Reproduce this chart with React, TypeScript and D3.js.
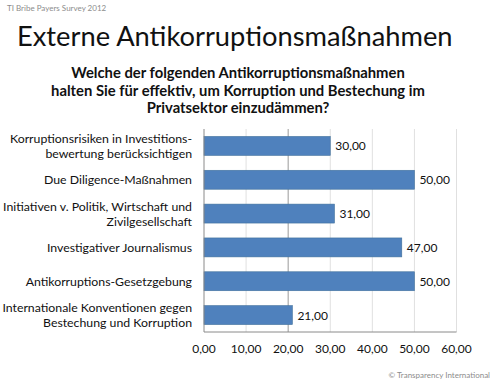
import React from "react";
import * as d3 from "d3";

const categories: string[][] = [
  ["Korruptionsrisiken in Investitions-", "bewertung berücksichtigen"],
  ["Due Diligence-Maßnahmen"],
  ["Initiativen v. Politik, Wirtschaft und", "Zivilgesellschaft"],
  ["Investigativer Journalismus"],
  ["Antikorruptions-Gesetzgebung"],
  ["Internationale Konventionen gegen", "Bestechung und Korruption"],
];
const values: number[] = [30, 50, 31, 47, 50, 21];
const ticks: number[] = [0, 10, 20, 30, 40, 50, 60];
const title = "Externe Antikorruptionsmaßnahmen";
const subtitle: string[] = [
  "Welche der folgenden Antikorruptionsmaßnahmen",
  "halten Sie für effektiv, um Korruption und Bestechung im",
  "Privatsektor einzudämmen?",
];
const sourceTop = "TI Bribe Payers Survey 2012";
const sourceBottom = "© Transparency International";

const fmt = (v: number) => v.toFixed(2).replace(".", ",");

export default function App() {
  const W = 500, H = 383;
  const left = 204, right = 456.5, top = 129, bottom = 332;
  const x = d3.scaleLinear().domain([0, 60]).range([left, right]);
  const y = d3
    .scaleBand<number>()
    .domain(d3.range(categories.length))
    .range([top, bottom])
    .paddingInner(0.44)
    .paddingOuter(0.22);
  const font = "Lato, 'Open Sans', sans-serif";
  return (
    <svg
      width={W}
      height={H}
      style={{ position: "absolute", left: 0, top: 0, background: "#fff" }}
      fontFamily={font}
    >
      <rect width={W} height={H} fill="#fff" />
      <text x={7} y={11} fontSize={8} fill="#8c8c8c">{sourceTop}</text>
      <text x={17} y={46} fontSize={27.3} fill="#111">{title}</text>
      {subtitle.map((s, i) => (
        <text key={i} x={238} y={78 + i * 17.5} fontSize={14.8} fontWeight="bold" textAnchor="middle" fill="#111">
          {s}
        </text>
      ))}
      {ticks.slice(1).map((t) => (
        <line
          key={t}
          x1={x(t)}
          x2={x(t)}
          y1={top}
          y2={bottom}
          stroke={t === 20 ? "#9a9a9a" : "#e0e0e0"}
          strokeWidth={1}
        />
      ))}
      {values.map((v, i) => (
        <g key={i}>
          <rect
            x={x(0)}
            y={y(i)!}
            width={x(v) - x(0)}
            height={y.bandwidth()}
            fill="#4f81bd"
            stroke="#41719c"
            strokeWidth={0.6}
          />
          <text x={x(v) + 5} y={y(i)! + y.bandwidth() / 2 + 4.5} fontSize={12} fill="#111">
            {fmt(v)}
          </text>
        </g>
      ))}
      <line x1={left} x2={left} y1={top} y2={bottom} stroke="#8a8a8a" />
      <line x1={left} x2={right} y1={bottom} y2={bottom} stroke="#8a8a8a" />
      {categories.map((lines, i) => {
        const cy = y(i)! + y.bandwidth() / 2;
        const lh = 15;
        const start = cy - ((lines.length - 1) * lh) / 2 + 4.5;
        return lines.map((l, j) => (
          <text key={i + "-" + j} x={192} y={start + j * lh} fontSize={12.3} textAnchor="end" fill="#111">
            {l}
          </text>
        ));
      })}
      {ticks.map((t) => (
        <text key={t} x={x(t)} y={353} fontSize={12} textAnchor="middle" fill="#111">
          {fmt(t)}
        </text>
      ))}
      <text x={490} y={378} fontSize={8} textAnchor="end" fill="#8c8c8c">{sourceBottom}</text>
    </svg>
  );
}
